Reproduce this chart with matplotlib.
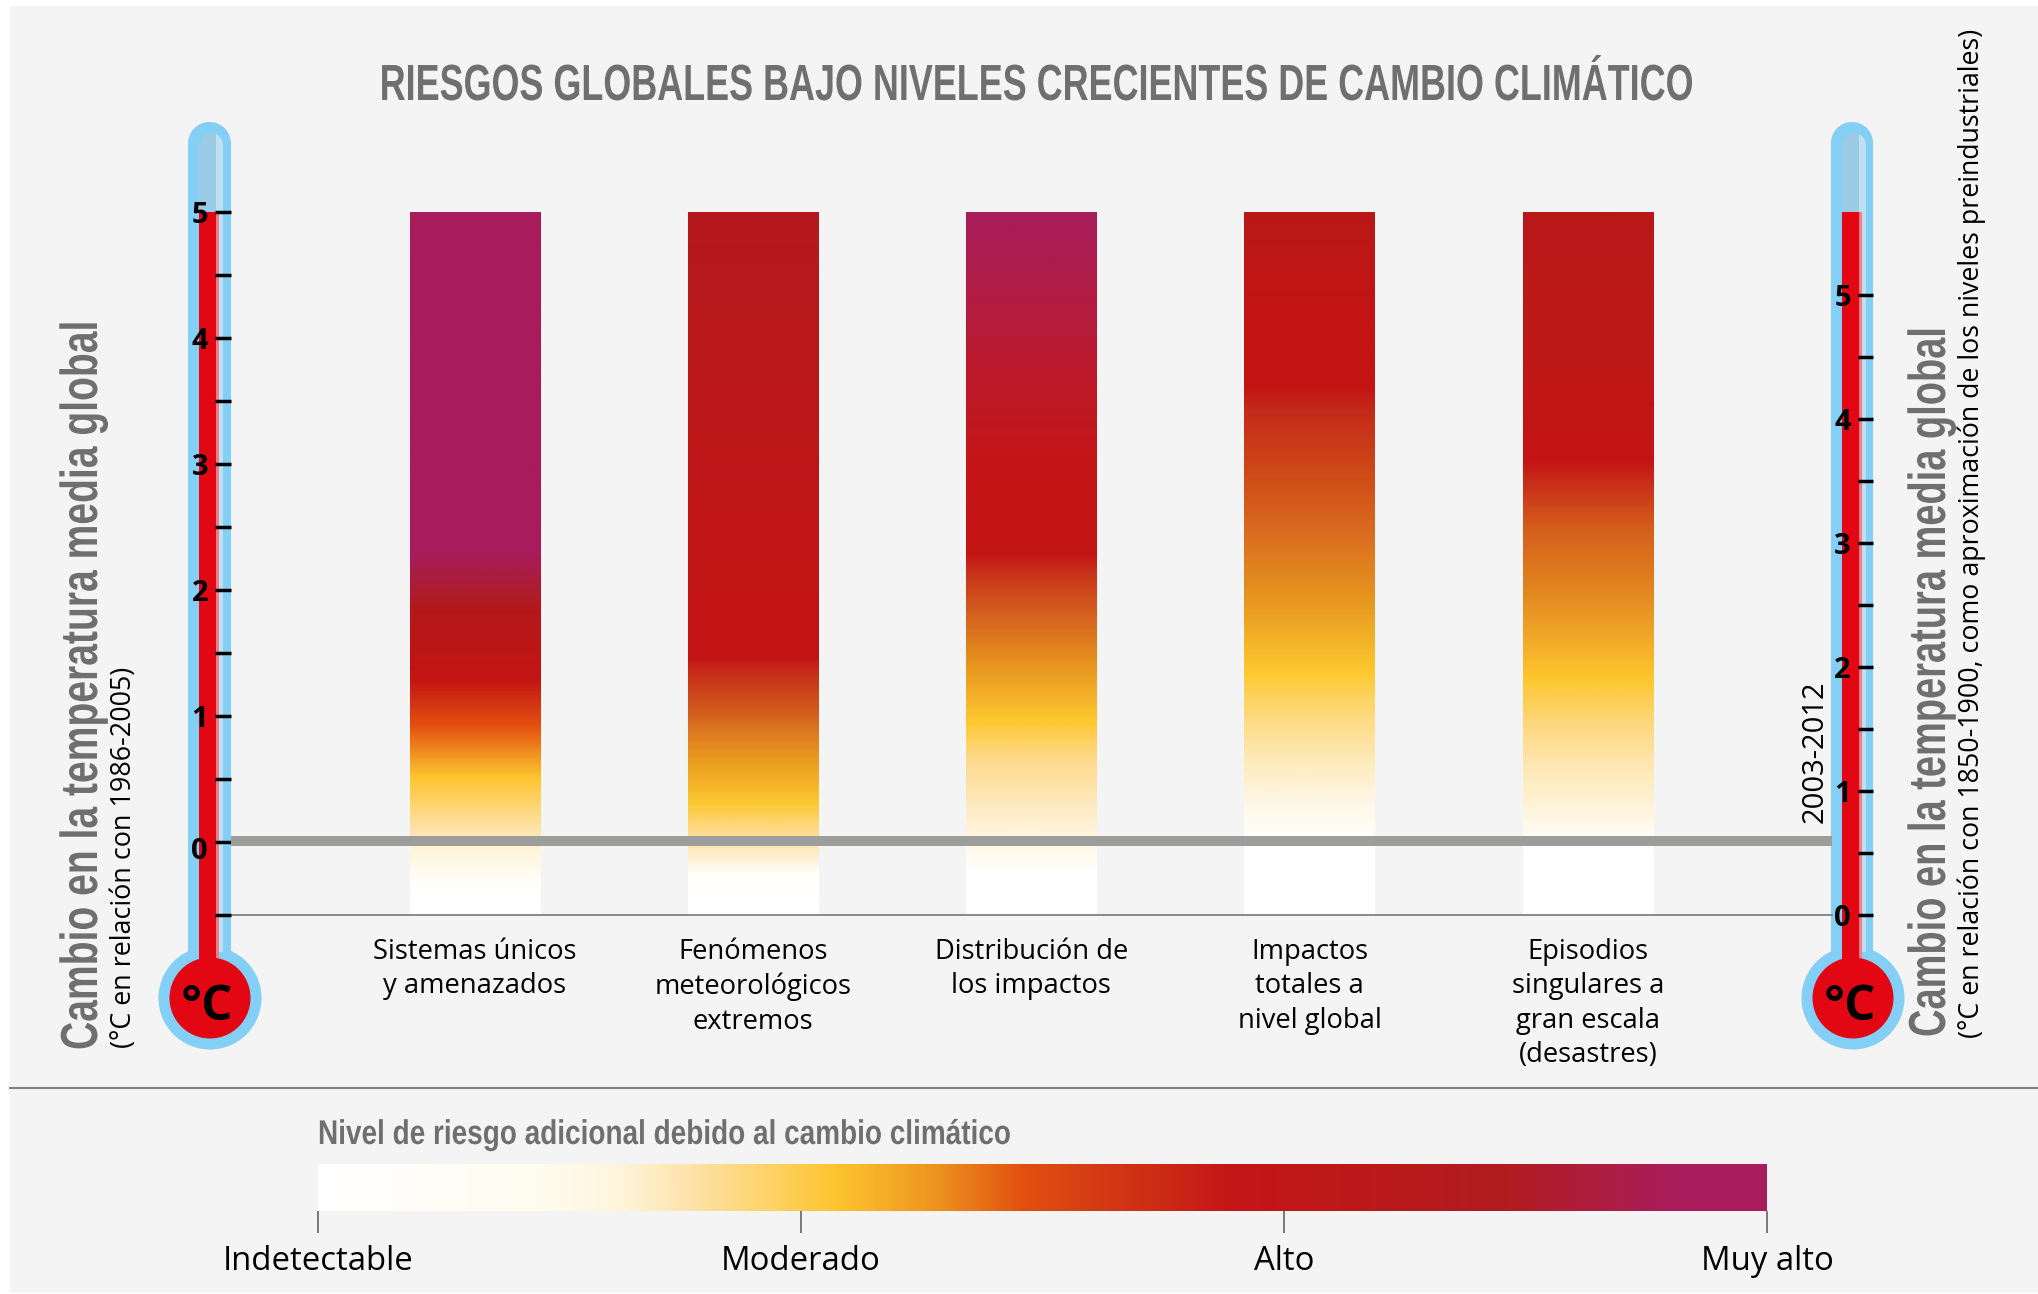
import numpy as np
import matplotlib
matplotlib.use('Agg')
import matplotlib.pyplot as plt
from matplotlib.colors import LinearSegmentedColormap, to_rgb
from matplotlib.patches import Circle, Rectangle
from matplotlib.patheffects import AbstractPathEffect
from matplotlib.transforms import Affine2D, ScaledTranslation

W, H = 2038, 1294

# Datos
categorias = ['Sistemas únicos\ny amenazados',
              'Fenómenos\nmeteorológicos\nextremos',
              'Distribución de\nlos impactos',
              'Impactos\ntotales a\nnivel global',
              'Episodios\nsingulares a\ngran escala\n(desastres)']

# temperatura (°C respecto de 1986-2005) y color de cada barra
temp_1 = [5, 2.29, 1.95, 1.84, 1.29, 0.92, 0.51, 0.07, -0.08, -0.33, -0.45, -0.58]
col_1 = ['#A81C5C', '#A81C5C', '#AE1C28', '#B5181A', '#C31414', '#E2500F', '#FDC52F',
         '#FEE5B0', '#FFF5DC', '#FFFEFA', '#FFFFFF', '#FFFFFF']
temp_2 = [5, 3.62, 2.51, 1.46, 1.36, 1.03, 0.85, 0.66, 0.31, 0.07, -0.08, -0.26, -0.58]
col_2 = ['#B4181E', '#BB1818', '#C11618', '#C31414', '#C62A18', '#D25C1E', '#DE7C20',
         '#E9991F', '#FDC72F', '#FDDC90', '#FEEBC0', '#FFFEFB', '#FFFFFF']
temp_3 = [5, 4.36, 3.62, 3.06, 2.29, 2.14, 1.84, 1.40, 0.96, 0.66, 0.29, 0.07, -0.08, -0.26, -0.58]
col_3 = ['#A81C5C', '#B21C44', '#BE1A28', '#C31618', '#C31414', '#C8321A', '#D25C1E', '#E8951F',
         '#FDC72F', '#FDD98A', '#FEEAC0', '#FEF3DC', '#FFFAEC', '#FFFFFF', '#FFFFFF']
temp_4 = [5, 4.17, 3.62, 3.43, 2.88, 2.40, 1.92, 1.345, 1.03, 0.66, 0.29, 0.07, 0.0, -0.58]
col_4 = ['#B91818', '#C31414', '#C31414', '#C42A18', '#D04D18', '#DC7020', '#E6961F', '#FDC92F',
         '#FDD878', '#FEE9B8', '#FEF8E8', '#FFFEF8', '#FFFFFF', '#FFFFFF']
temp_5 = [5, 3.99, 3.03, 2.88, 2.51, 1.95, 1.29, 0.96, 0.59, 0.07, -0.1, -0.58]
col_5 = ['#B91818', '#BE1818', '#C31414', '#C82A18', '#D45C1C', '#E48A20', '#FDC72F', '#FDD678',
         '#FEE8B4', '#FFFBF0', '#FFFFFF', '#FFFFFF']
barras = [(temp_1, col_1), (temp_2, col_2), (temp_3, col_3), (temp_4, col_4), (temp_5, col_5)]

# escala de riesgo de la leyenda
niveles = [0, 1, 2, 3]
niveles_txt = ['Indetectable', 'Moderado', 'Alto', 'Muy alto']
ley_pos = [0, 0.45, 0.62, 0.77, 1.07, 1.27, 1.46, 1.6, 1.9, 2.07, 2.46, 2.65, 2.82, 3]
ley_col = ['#FFFFFF', '#FFFCF0', '#FEF5DC', '#FEE3AA', '#FDC52F', '#EE9620', '#E2500F', '#D53D14',
           '#C31618', '#C01818', '#B01C1F', '#AE1E40', '#A81C5C', '#A81C5C']

linea_2003 = 0.6      # °C respecto de 1850-1900
eje_izq = (-0.58, 5)
eje_der = (0, 5.67)

GRIS = '#706F6F'
plt.rcParams['font.family'] = ['Open Sans', 'DejaVu Sans']


class Estrecha(AbstractPathEffect):
    # comprime el texto alrededor de su ancla, no hay fuente condensada instalada
    def __init__(self, x, y, sx=1.0, sy=1.0):
        super().__init__()
        self.tr = Affine2D().translate(-x, -y).scale(sx, sy).translate(x, y)

    def draw_path(self, renderer, gc, tpath, affine, rgbFace=None):
        renderer.draw_path(gc, tpath, affine + self.tr, rgbFace)


def caja(x0, y0, x1, y1):
    # posicion de un eje a partir de pixeles de la imagen
    return [x0 / W, 1 - y1 / H, (x1 - x0) / W, (y1 - y0) / H]


def rampa(pos, cols):
    pos = np.array(pos, dtype=float)
    t = (pos - pos.min()) / (pos.max() - pos.min())
    orden = np.argsort(t)
    return LinearSegmentedColormap.from_list('r', [(t[i], to_rgb(cols[i])) for i in orden], N=512)


def termometro(fondo, x_izq, x_der, cx_bulbo):
    azul = '#83CFF5'
    cam = '#9CCBE6'
    brillo = '#BDE0F3'
    rojo = '#E30613'
    cx = (x_izq + x_der) / 2
    r_tubo = (x_der - x_izq) / 2
    cap_y = 122 + r_tubo
    fondo.add_patch(Circle((cx, cap_y), r_tubo, fc=azul, ec='none'))
    fondo.add_patch(Rectangle((x_izq, cap_y), x_der - x_izq, 960 - cap_y, fc=azul, ec='none'))
    fondo.add_patch(Circle((cx_bulbo, 998), 51.5, fc=azul, ec='none'))
    r0, r1 = x_izq + 11, x_izq + 28
    # camara vacia, con el brillo recortado por la punta redonda
    fondo.add_patch(Circle((r0 + 12, 145), 12, fc=cam, ec='none'))
    fondo.add_patch(Rectangle((r0, 145), 24, 70, fc=cam, ec='none'))
    punta = fondo.add_patch(Circle((r0 + 12, 145), 12, fc=brillo, ec='none'))
    punta.set_clip_path(Rectangle((r1, 130), 7, 16, transform=fondo.transData))
    fondo.add_patch(Rectangle((r1, 145), 7, 70, fc=brillo, ec='none'))
    fondo.add_patch(Rectangle((r1 + 3, 212), 4, 740, fc=brillo, ec='none'))
    # columna roja
    fondo.add_patch(Rectangle((r0, 212), r1 - r0, 750, fc=rojo, ec='none'))
    fondo.add_patch(Rectangle((r1, 212), 3, 746, fc='#F07C86', ec='none'))
    fondo.add_patch(Circle((cx_bulbo, 998), 40.5, fc=rojo, ec='none'))
    fondo.text(cx_bulbo - 3, 1007, '°C', fontsize=35.5, fontweight='bold', color='black',
               ha='center', va='center')


def titulo(x, y, txt, size, sx=1.0, sy=1.0, **kw):
    # texto gris estrecho; x, y en pixeles de la imagen
    t = fondo.text(x, y, txt, family=['Liberation Sans', 'DejaVu Sans'], fontweight='bold',
                   fontsize=size, color=GRIS, va='baseline', rotation_mode='anchor', **kw)
    px, py = fondo.transData.transform((x, y))
    t.set_path_effects([Estrecha(px, py, sx, sy)])
    return t


fig = plt.figure(figsize=(W / 100, H / 100), dpi=100, facecolor='white')

# fondo en pixeles: panel gris, termometros y titulos
fondo = fig.add_axes([0, 0, 1, 1])
fondo.set_xlim(0, W)
fondo.set_ylim(H, 0)
fondo.axis('off')
fondo.add_patch(Rectangle((10, 6), W - 10, H - 7, fc='#F4F4F4', ec='none'))
termometro(fondo, 188, 231, 210)
termometro(fondo, 1831, 1873, 1853)
fondo.plot([10, W], [1088, 1088], color='#808080', lw=1.5)

titulo(1037, 100, 'RIESGOS GLOBALES BAJO NIVELES CRECIENTES DE CAMBIO CLIMÁTICO', 36.6,
       sx=0.707, ha='center')
titulo(97, 1050, 'Cambio en la temperatura media global', 37.5, sy=0.75, rotation=90, ha='left')
titulo(1945, 1037, 'Cambio en la temperatura media global', 37.5, sy=0.73, rotation=90, ha='left')
titulo(318, 1144, 'Nivel de riesgo adicional debido al cambio climático', 24.7, sx=0.815, ha='left')

fondo.text(124, 1048, '(°C en relación con 1986-2005)', rotation=90, fontsize=19.4,
           ha='center', va='bottom')
fondo.text(1972, 1038, '(°C en relación con 1850-1900, como aproximación de los niveles preindustriales)',
           rotation=90, fontsize=19.3, ha='center', va='bottom')
fondo.text(1815, 823, '2003-2012', rotation=90, fontsize=21, ha='center', va='bottom')

# barras de riesgo
ax = fig.add_axes(caja(231, 212, 1832, 915), facecolor='none')
for i, (temp, col) in enumerate(barras):
    grad = np.linspace(1, 0, 600).reshape(-1, 1)
    ax.imshow(grad, cmap=rampa(temp, col), vmin=0, vmax=1, aspect='auto',
              extent=(i - 0.2345, i + 0.2345, min(temp), max(temp)), zorder=1)
ax.set_xlim(-0.876, 4.877)
ax.set_ylim(*eje_izq)
for s in ['top', 'left', 'right']:
    ax.spines[s].set_visible(False)
ax.spines['bottom'].set_color('#808080')
ax.spines['bottom'].set_linewidth(1.3)
ax.set_yticks([])
ax.set_xticks(range(len(categorias)))
ax.set_xticklabels(categorias, fontsize=19.7, linespacing=1.31)
ax.tick_params(axis='x', length=0, pad=16.5)

# ejes de temperatura sobre los termometros
izq = fig.add_axes(caja(231, 212, 232, 915), facecolor='none')
izq.set_ylim(*eje_izq)
izq.set_xticks([])
for s in izq.spines.values():
    s.set_visible(False)
izq.set_yticks([0, 1, 2, 3, 4, 5])
izq.set_yticks([-0.58, 0.5, 1.5, 2.5, 3.5, 4.5], minor=True)
izq.tick_params(axis='y', which='both', length=11.5, width=2.5, pad=5, labelsize=21)
for t in izq.get_yticklabels():
    t.set_fontweight('bold')
cero = izq.get_yticklabels()[0]
cero.set_transform(cero.get_transform() + ScaledTranslation(0, -6 / 100, fig.dpi_scale_trans))

der = fig.add_axes(caja(1873, 212, 1874, 915), facecolor='none')
der.set_ylim(*eje_der)
der.set_xticks([])
for s in der.spines.values():
    s.set_visible(False)
der.set_yticks([0, 1, 2, 3, 4, 5])
der.set_yticks([0.5, 1.5, 2.5, 3.5, 4.5], minor=True)
der.tick_params(axis='y', which='both', length=11, width=2.5, pad=5, labelsize=21)
for t in der.get_yticklabels():
    t.set_fontweight('bold')

# linea del periodo 2003-2012, en la escala de la derecha
ax_d = ax.twinx()
ax_d.set_ylim(*eje_der)
ax_d.set_yticks([])
for s in ax_d.spines.values():
    s.set_visible(False)
ax_d.axhline(linea_2003, color='#9D9D9B', lw=7.2, zorder=3)

# leyenda
ley = fig.add_axes(caja(318, 1164, 1767, 1211))
ley.imshow(np.linspace(0, 1, 1000).reshape(1, -1), cmap=rampa(ley_pos, ley_col), aspect='auto',
           extent=(niveles[0], niveles[-1], 0, 1))
for s in ley.spines.values():
    s.set_visible(False)
ley.set_yticks([])
ley.set_xticks(niveles)
ley.set_xticklabels(niveles_txt, fontsize=23.7)
ley.tick_params(axis='x', length=16, width=1.3, color=GRIS, pad=8.5)

fig.savefig('out.png', dpi=100, facecolor='white')
